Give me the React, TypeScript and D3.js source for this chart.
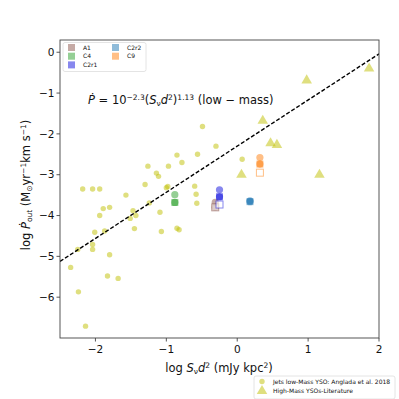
import * as d3 from "d3";

const W = 399;
const H = 399;
const M = { left: 60, right: 20, top: 40, bottom: 61 };

// jets low-mass YSOs (Anglada et al. 2018)
const lowX = [-0.49, -0.3, -0.85, -0.56, -0.78, -1.26, -0.97, -1.14, -1.11, 0.07, -1.3, -0.98, -1.0, -0.6, -2.18, -2.04, -1.94, -1.57, -0.58, -0.57, -1.24, -1.89, -1.8, -1.09, -1.47, -1.94, -1.43, -1.51, -1.45, -1.07, -0.85, -0.82, -2.01, -1.87, -2.25, -2.04, -2.04, -1.8, -2.35, -1.83, -1.68, -2.24, -2.14];
const lowY = [-1.82, -2.3, -2.52, -2.5, -2.7, -2.79, -2.79, -2.96, -3.04, -2.62, -3.24, -3.29, -3.32, -3.28, -3.35, -3.35, -3.35, -3.5, -3.48, -3.7, -3.69, -3.83, -3.8, -3.92, -3.88, -4.0, -4.0, -4.07, -4.32, -4.39, -4.31, -4.35, -4.41, -4.38, -4.83, -4.71, -4.83, -4.96, -5.27, -5.48, -5.54, -5.87, -6.71];

// high-mass YSOs from literature
const highX = [0.98, 1.86, 0.36, 0.47, 0.56, 0.06, 1.16];
const highY = [-0.69, -0.4, -1.68, -2.23, -2.27, -3.0, -3.0];

// sources of this work
const srcNames = ["A1", "C4", "C2r1", "C2r2", "C9"];
const srcColors = ["#8c564b", "#2ca02c", "#1010dd", "#1f77b4", "#ff7f0e"];
const srcX = [-0.31, -0.88, -0.25, 0.18, 0.32];
const srcCircleY = [-3.68, -3.49, -3.37, -3.64, -2.58];
const srcSquareY = [-3.8, -3.68, -3.54, -3.66, -2.74];
const srcOpenY = [-3.8, null, -3.73, null, -2.95];

const xTicks = [-2, -1, 0, 1, 2];
const yTicks = [0, -1, -2, -3, -4, -5, -6];

const fitA = -2.3;
const fitB = 1.13;

const olive = "#bfbf00";

function App() {
  const x = d3.scaleLinear().domain([-2.5, 2]).range([M.left, W - M.right]);
  const y = d3.scaleLinear().domain([-7, 0.3]).range([H - M.bottom, M.top]);
  const fmt = (v: number) => (v < 0 ? "\u2212" + Math.abs(v) : String(v));

  const line = d3
    .line<number>()
    .x((d) => x(d))
    .y((d) => y(fitA + fitB * d));
  const fitPts = [-2.5, 2];

  const tri = d3.symbol().type(d3.symbolTriangle).size(48);
  const font = "DejaVu Sans, sans-serif";
  const sq = 7;

  return (
    <svg
      width={W}
      height={H}
      style={{ position: "absolute", left: 0, top: 0 }}
      fontFamily={font}
    >
      <rect width={W} height={H} fill="white" />
      <defs>
        <clipPath id="plot">
          <rect x={M.left} y={M.top} width={W - M.left - M.right} height={H - M.top - M.bottom} />
        </clipPath>
      </defs>

      <g clipPath="url(#plot)">
        {lowX.map((v, i) => (
          <circle key={"l" + i} cx={x(v)} cy={y(lowY[i])} r={2.7} fill={olive} fillOpacity={0.5} />
        ))}
        {highX.map((v, i) => (
          <path
            key={"h" + i}
            d={tri()!}
            transform={`translate(${x(v)},${y(highY[i])})`}
            fill={olive}
            fillOpacity={0.5}
          />
        ))}
        {srcNames.map((n, i) => (
          <g key={n}>
            <circle cx={x(srcX[i])} cy={y(srcCircleY[i])} r={3.6} fill={srcColors[i]} fillOpacity={0.5} />
            <circle cx={x(srcX[i])} cy={y(srcSquareY[i])} r={3.6} fill={srcColors[i]} fillOpacity={0.5} />
            <rect
              x={x(srcX[i]) - sq / 2}
              y={y(srcSquareY[i]) - sq / 2}
              width={sq}
              height={sq}
              fill={srcColors[i]}
              fillOpacity={0.5}
            />
            {srcOpenY[i] !== null && (
              <rect
                x={x(srcX[i]) - sq / 2}
                y={y(srcOpenY[i] as number) - sq / 2}
                width={sq}
                height={sq}
                fill="white"
                fillOpacity={0.6}
                stroke={srcColors[i]}
                strokeOpacity={0.5}
                strokeWidth={1}
              />
            )}
          </g>
        ))}
        <path d={line(fitPts)!} fill="none" stroke="black" strokeWidth={1.4} strokeDasharray="4,2" />
      </g>

      {/* frame */}
      <rect
        x={M.left}
        y={M.top}
        width={W - M.left - M.right}
        height={H - M.top - M.bottom}
        fill="none"
        stroke="#444"
        strokeWidth={0.9}
      />

      {/* x axis */}
      {xTicks.map((t) => (
        <g key={"xt" + t} transform={`translate(${x(t)},${H - M.bottom})`}>
          <line y2={3.5} stroke="#444" strokeWidth={0.9} />
          <text y={15} textAnchor="middle" fontSize={10.5} fill="#111">
            {fmt(t)}
          </text>
        </g>
      ))}
      {/* y axis */}
      {yTicks.map((t) => (
        <g key={"yt" + t} transform={`translate(${M.left},${y(t)})`}>
          <line x2={-3.5} stroke="#444" strokeWidth={0.9} />
          <text x={-5.5} dy="0.35em" textAnchor="end" fontSize={10.5} fill="#111">
            {fmt(t)}
          </text>
        </g>
      ))}

      {/* axis labels */}
      <text x={219} y={372} textAnchor="middle" fontSize={11.5} fill="#111">
        log <tspan fontStyle="italic">S</tspan>
        <tspan fontSize={7.5} dy={2}>ν</tspan>
        <tspan fontStyle="italic" dy={-2}>d</tspan>
        <tspan fontSize={7.5} dy={-4}>2</tspan>
        <tspan dy={4}> (mJy kpc</tspan>
        <tspan fontSize={7.5} dy={-4}>2</tspan>
        <tspan dy={4}>)</tspan>
      </text>
      <text transform="translate(30,185) rotate(-90)" textAnchor="middle" fontSize={11.5} fill="#111">
        log <tspan fontStyle="italic">{"\u1E56"}</tspan>
        <tspan fontSize={7.5} dy={2}>out</tspan>
        <tspan dy={-2}> (M</tspan>
        <tspan fontSize={7.5} dy={2}>{"\u2299"}</tspan>
        <tspan dy={-2}>yr</tspan>
        <tspan fontSize={7.5} dy={-4}>{"\u22121"}</tspan>
        <tspan dy={4}>km s</tspan>
        <tspan fontSize={7.5} dy={-4}>{"\u22121"}</tspan>
        <tspan dy={4}>)</tspan>
      </text>

      {/* fit equation */}
      <text x={88} y={104} fontSize={11.5} fill="#111">
        <tspan fontStyle="italic">{"\u1E56"}</tspan>
        <tspan> = 10</tspan>
        <tspan fontSize={7.5} dy={-4}>{"\u22122.3"}</tspan>
        <tspan dy={4}>(</tspan>
        <tspan fontStyle="italic">S</tspan>
        <tspan fontSize={7.5} dy={2}>ν</tspan>
        <tspan fontStyle="italic" dy={-2}>d</tspan>
        <tspan fontSize={7.5} dy={-4}>2</tspan>
        <tspan dy={4}>)</tspan>
        <tspan fontSize={7.5} dy={-4}>1.13</tspan>
        <tspan dy={4}> (low {"\u2212"} mass)</tspan>
      </text>

      {/* sources legend */}
      <rect x={63} y={42.5} width={83} height={29} rx={2} fill="white" fillOpacity={0.8} stroke="#ddd" strokeWidth={0.8} />
      {srcNames.map((n, i) => {
        const col = i < 3 ? 0 : 1;
        const row = i < 3 ? i : i - 3;
        const lx = 68 + col * 44;
        const ly = 47.5 + row * 8.7;
        return (
          <g key={"lg" + n}>
            <rect x={lx} y={ly - 3.5} width={7} height={7} fill={srcColors[i]} fillOpacity={0.5} />
            <text x={lx + 15} y={ly} dy="0.35em" fontSize={6} fill="#111">
              {n}
            </text>
          </g>
        );
      })}

      {/* literature legend */}
      <rect x={254} y={376} width={141} height={23} rx={2} fill="white" fillOpacity={0.8} stroke="#ddd" strokeWidth={0.8} />
      <circle cx={262} cy={381.5} r={2.7} fill={olive} fillOpacity={0.5} />
      <path d={tri()!} transform="translate(262,391)" fill={olive} fillOpacity={0.5} />
      <text x={273} y={381.5} dy="0.35em" fontSize={6} fill="#111">
        Jets low-Mass YSO: Anglada et al. 2018
      </text>
      <text x={273} y={391} dy="0.35em" fontSize={6} fill="#111">
        High-Mass YSOs-Literature
      </text>
    </svg>
  );
}

export default App;
